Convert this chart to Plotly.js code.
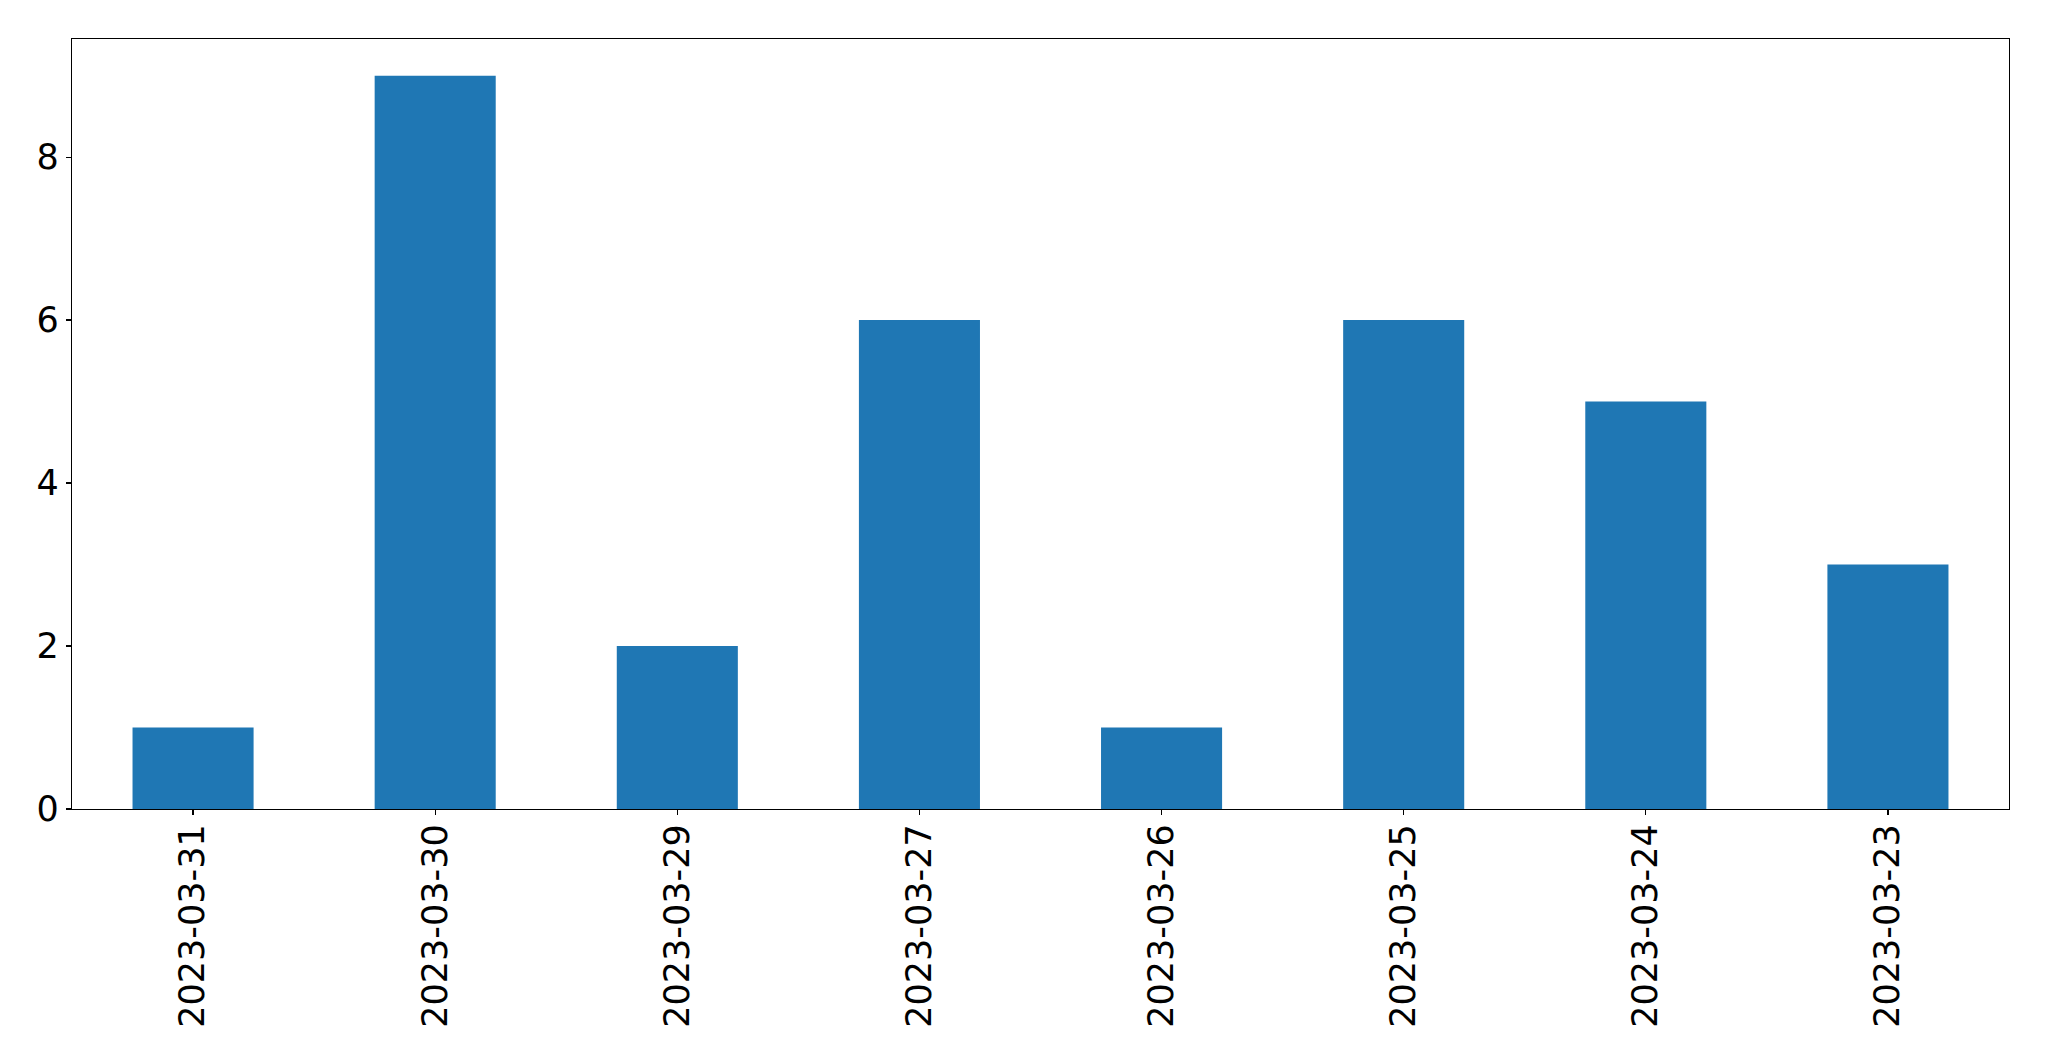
<!DOCTYPE html>
<html>
<head>
<meta charset="utf-8">
<script src="https://cdn.plot.ly/plotly-3.0.1.min.js"></script>
<style>html,body{margin:0;padding:0;background:#fff;}#chart{width:2049px;height:1061px;}</style>
</head>
<body>
<div id="chart"></div>
<script>
const dates = ["2023-03-31","2023-03-30","2023-03-29","2023-03-27","2023-03-26","2023-03-25","2023-03-24","2023-03-23"];
const counts = [1, 9, 2, 6, 1, 6, 5, 3];
const yTicks = [0, 2, 4, 6, 8];

const trace = {
  type: 'bar',
  x: dates,
  y: counts,
  width: 0.5,
  marker: {color: '#1f77b4', line: {width: 0}},
  hoverinfo: 'x+y'
};

const layout = {
  width: 2049,
  height: 1061,
  margin: {l: 72, r: 40, t: 39, b: 252, pad: 0},
  paper_bgcolor: '#fff',
  plot_bgcolor: '#fff',
  showlegend: false,
  font: {family: 'DejaVu Sans', size: 35, color: '#000'},
  xaxis: {
    type: 'category',
    range: [-0.5, 7.5],
    tickangle: -90,
    ticks: 'outside', ticklen: 5, tickwidth: 1.3, tickcolor: '#000',
    ticklabelstandoff: -5,
    showline: true, linecolor: '#000', linewidth: 1.3, mirror: true,
    showgrid: false, zeroline: false,
    tickfont: {family: 'DejaVu Sans', size: 35, color: '#000'}
  },
  yaxis: {
    range: [0, 9.45],
    tickvals: yTicks,
    ticktext: yTicks.map(String),
    ticks: 'outside', ticklen: 5, tickwidth: 1.3, tickcolor: '#000',
    showline: true, linecolor: '#000', linewidth: 1.3, mirror: true,
    showgrid: false, zeroline: false,
    tickfont: {family: 'DejaVu Sans', size: 35, color: '#000'}
  }
};

Plotly.newPlot('chart', [trace], layout, {displayModeBar: false, staticPlot: true});
</script>
</body>
</html>
